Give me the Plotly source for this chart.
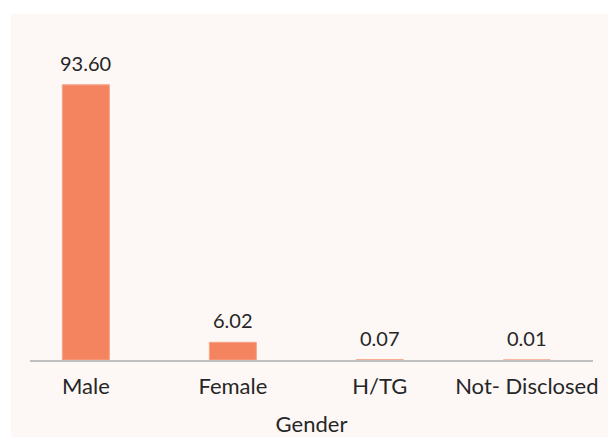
import plotly.graph_objects as go

categories = ["Male", "Female", "H/TG", "Not- Disclosed"]
values = [93.60, 6.02, 0.07, 0.01]
labels = ["93.60", "6.02", "0.07", "0.01"]

fig = go.Figure()
fig.add_trace(go.Bar(
    x=categories, y=values,
    marker=dict(color="#F4845F", line=dict(color="#F7A488", width=1)),
    width=0.32, cliponaxis=False, hoverinfo="skip",
))
for c, v, t in zip(categories, values, labels):
    fig.add_annotation(x=c, y=v, text=t, showarrow=False, yanchor="bottom",
                       yshift=8, font=dict(size=20, color="#262626", family="Lato"))

fig.add_shape(type="rect", xref="paper", yref="paper",
              x0=-(30 - 11) / 563, x1=(608 - 30) / 563,
              y0=-77 / 294, y1=(360 - 14) / 294,
              fillcolor="#FDF8F6", line=dict(width=0), layer="below")

fig.update_layout(
    width=608, height=437,
    margin=dict(l=30, r=15, t=66, b=77),
    paper_bgcolor="white", plot_bgcolor="rgba(0,0,0,0)",
    showlegend=False,
    font=dict(family="Lato", size=20, color="#262626"),
)
fig.update_xaxes(
    range=[-0.38, 3.45], showline=True, linecolor="#BFBFBF", linewidth=1.5,
    ticks="", showgrid=False, ticklabelstandoff=6, automargin=False,
    tickfont=dict(size=22, color="#262626"),
    title=dict(text="Gender", font=dict(size=22, color="#262626"), standoff=18),
)
fig.update_yaxes(range=[0, 100], visible=False, showgrid=False, zeroline=False)

fig.write_html("out.html", config={"displayModeBar": False},
               post_script="document.body.style.margin='0';document.body.style.overflow='hidden';")
